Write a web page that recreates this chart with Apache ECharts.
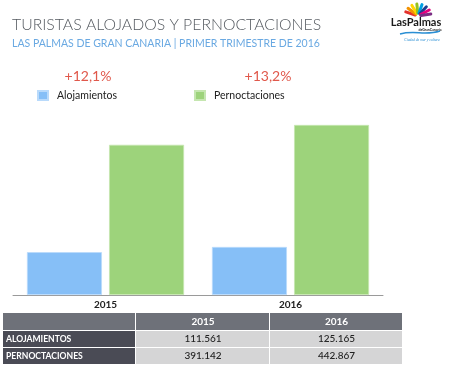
<!DOCTYPE html>
<html>
<head>
<meta charset="utf-8">
<script src="https://cdn.jsdelivr.net/npm/echarts@6/dist/echarts.min.js"></script>
<style>html,body{margin:0;padding:0;background:#fff}#c{width:450px;height:369px}</style>
</head>
<body>
<div id="c"></div>
<script>
var years = ['2015', '2016'];
var alojamientos = [111561, 125165];
var pernoctaciones = [391142, 442867];
var seriesNames = ['Alojamientos', 'Pernoctaciones'];
var rowLabels = ['ALOJAMIENTOS', 'PERNOCTACIONES'];
var growth = ['+12,1%', '+13,2%'];
var titleText = 'TURISTAS ALOJADOS Y PERNOCTACIONES';
var subtitleText = 'LAS PALMAS DE GRAN CANARIA | PRIMER TRIMESTRE DE 2016';

function fmt(n) { return String(n).replace(/\B(?=(\d{3})+(?!\d))/g, '.'); }

var chart = echarts.init(document.getElementById('c'), null, {renderer: 'canvas'});
var FONT = 'Lato';
var graphics = [];

// Title
graphics.push({type: 'text', left: 12, top: 17, style: {text: titleText, font: '300 15.8px Lato', fill: '#555a60'}});
graphics.push({type: 'text', left: 12, top: 38, style: {text: subtitleText, font: '400 10.5px Lato', fill: '#6aa9e2'}});

// Growth labels
var growthX = [88, 268];
growth.forEach(function (g, i) {
  graphics.push({type: 'text', x: growthX[i], y: 76, style: {text: g, font: '400 14px Lato', fill: '#e0584b', align: 'center', verticalAlign: 'middle'}});
});

// Table
var colX = [3, 136, 270, 403];
var rowY = [313, 331, 348, 365];
var tableRows = [
  [''].concat(years),
  [rowLabels[0], fmt(alojamientos[0]), fmt(alojamientos[1])],
  [rowLabels[1], fmt(pernoctaciones[0]), fmt(pernoctaciones[1])]
];
for (var r = 0; r < 3; r++) {
  for (var c = 0; c < 3; c++) {
    var fill;
    if (r === 0) fill = '#6e7179';
    else if (c === 0) fill = '#4a4b55';
    else fill = '#d5d5d6';
    graphics.push({type: 'rect', shape: {x: colX[c], y: rowY[r], width: colX[c + 1] - colX[c] - 1, height: rowY[r + 1] - rowY[r] - 1}, style: {fill: fill}});
    var txt = tableRows[r][c];
    if (!txt) continue;
    var cy = (rowY[r] + rowY[r + 1] - 1) / 2;
    if (c === 0) {
      graphics.push({type: 'text', x: colX[0] + 3, y: cy, style: {text: txt, font: 'bold 8.6px Lato', fill: '#fff', verticalAlign: 'middle'}});
    } else {
      graphics.push({type: 'text', x: (colX[c] + colX[c + 1]) / 2, y: cy, style: {text: txt, font: (r === 0 ? 'bold 10px Lato' : '500 10px Lato'), fill: (r === 0 ? '#fff' : '#222'), align: 'center', verticalAlign: 'middle'}});
    }
  }
}

// Logo (decorative)
var rayColors = ['#e4312b', '#f39200', '#ffd500', '#95c11f', '#009fe3', '#1d3f8f', '#e6007e', '#7b2c83'];
var angles = [-160, -140, -118, -95, -72, -50, -30, -10];
angles.forEach(function (a, i) {
  var rad = a * Math.PI / 180;
  graphics.push({type: 'line', shape: {x1: 418 + Math.cos(rad) * 3, y1: 16 + Math.sin(rad) * 3, x2: 418 + Math.cos(rad) * 13, y2: 16 + Math.sin(rad) * 12}, style: {stroke: rayColors[i], lineWidth: 3, lineCap: 'round'}});
});
graphics.push({type: 'text', x: 416, y: 22, style: {text: 'LasPalmas', font: 'bold 11px Lato', fill: '#1a1a1a', align: 'center', verticalAlign: 'middle'}});
graphics.push({type: 'text', x: 430, y: 29.5, style: {text: 'deGranCanaria', font: 'bold 3.5px Lato', fill: '#1a1a1a', align: 'center', verticalAlign: 'middle'}});
graphics.push({type: 'bezierCurve', shape: {x1: 400, y1: 34, x2: 440, y2: 31, cpx1: 415, cpy1: 30, cpx2: 425, cpy2: 36}, style: {stroke: '#2a8fd4', lineWidth: 1.5, fill: null}});
graphics.push({type: 'text', x: 422, y: 40, style: {text: 'Ciudad de mar y cultura', font: 'italic 3.6px serif', fill: '#2a8fd4', align: 'center', verticalAlign: 'middle'}});

chart.setOption({
  animation: false,
  backgroundColor: '#ffffff',
  legend: {
    data: seriesNames,
    left: 37, top: 90, padding: 0,
    itemWidth: 10, itemHeight: 9, itemGap: 77,
    icon: 'rect',
    textStyle: {fontFamily: FONT, fontSize: 10.5, color: '#222', padding: [0, 0, 0, 4]}
  },
  grid: {left: 13, right: 67, top: 103, bottom: 74, containLabel: false},
  xAxis: {
    type: 'category', data: years,
    axisLine: {lineStyle: {color: '#9a9a9a', width: 1}},
    axisTick: {show: false},
    axisLabel: {fontFamily: FONT, fontSize: 10, fontWeight: 'bold', color: '#222', margin: 5}
  },
  yAxis: {type: 'value', min: 0, max: 500000, show: false, splitLine: {show: false}},
  series: [
    {name: seriesNames[0], type: 'bar', data: alojamientos, barWidth: 75, barGap: '9.5%', itemStyle: {color: '#86bff7', borderColor: '#b9dafb', borderWidth: 0.8}},
    {name: seriesNames[1], type: 'bar', data: pernoctaciones, barWidth: 75, itemStyle: {color: '#9dd37b', borderColor: '#c5e6b0', borderWidth: 0.8}}
  ],
  graphic: graphics
});
</script>
</body>
</html>
